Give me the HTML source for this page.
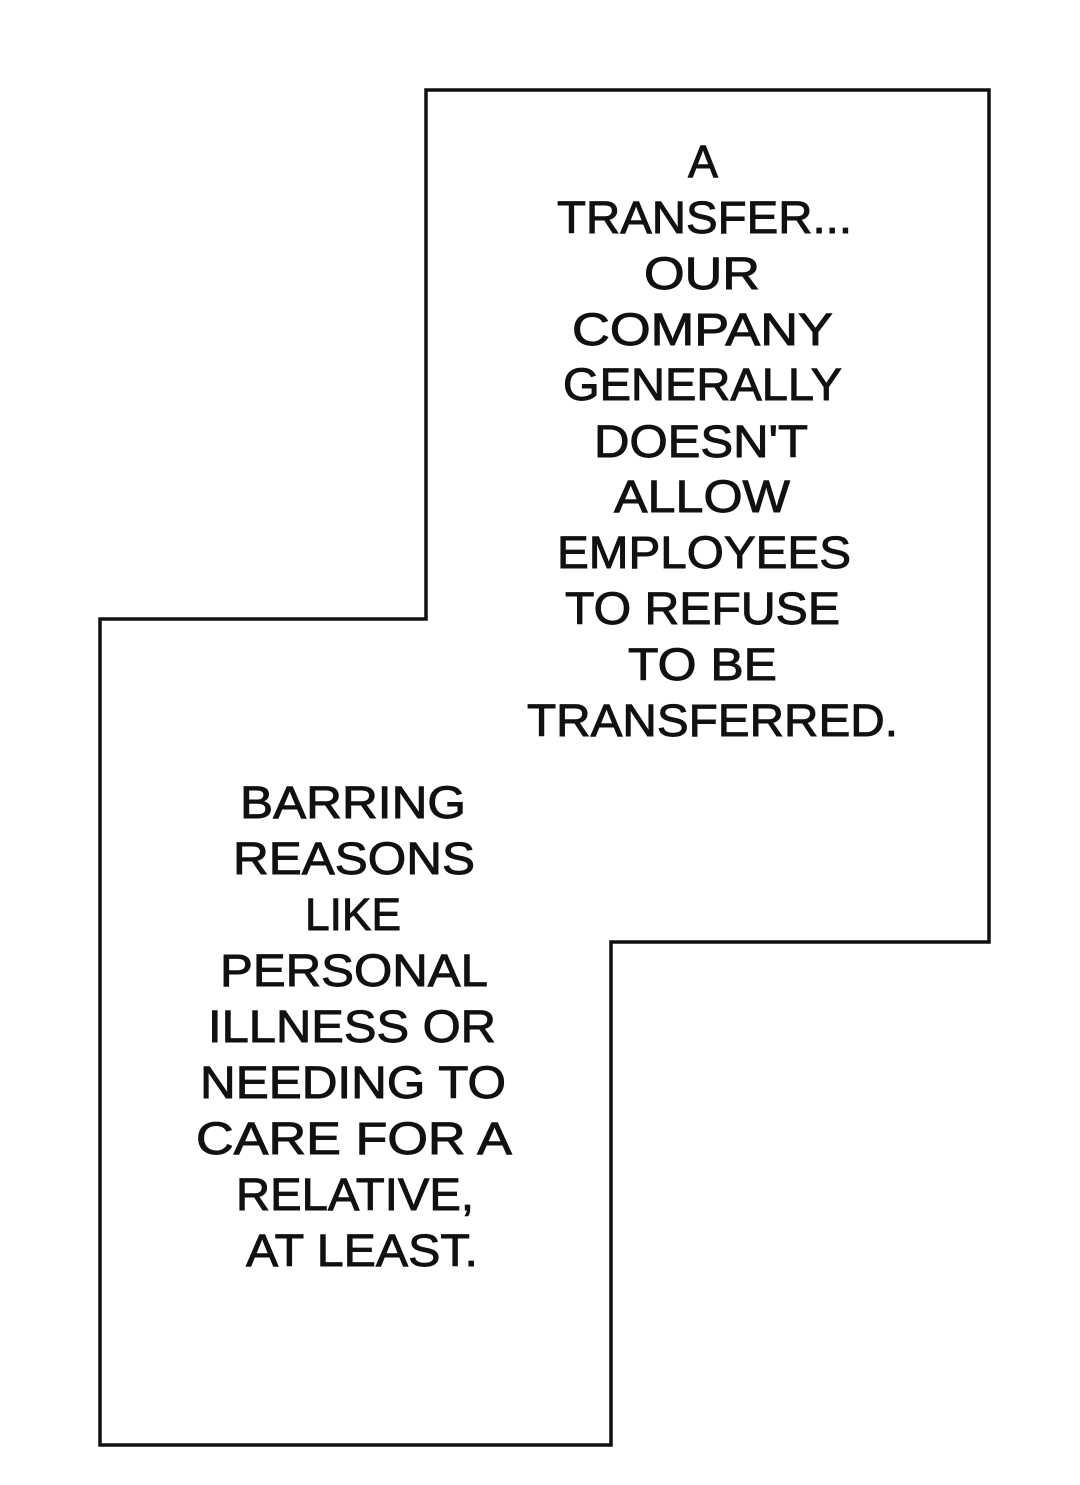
<!DOCTYPE html>
<html><head><meta charset="utf-8"><style>
html,body{margin:0;padding:0;background:#fff;}
svg{display:block}
text{font-family:"Liberation Sans",Arial,sans-serif;font-size:45px;fill:#111;stroke:#111;stroke-width:0.9px;}
</style></head><body>
<svg width="1080" height="1485" viewBox="0 0 1080 1485" xmlns="http://www.w3.org/2000/svg">
<rect width="1080" height="1485" fill="#fff" stroke="none"/>
<path d="M426,90 L989,90 L989,942 L611,942 L611,1445 L100,1445 L100,619 L426,619 Z" fill="#fff" stroke="#111" stroke-width="3.5"/>
<g>
<text x="688" y="177" textLength="30" lengthAdjust="spacingAndGlyphs">A</text>
<text x="557" y="233" textLength="295" lengthAdjust="spacingAndGlyphs">TRANSFER...</text>
<text x="644" y="289" textLength="116" lengthAdjust="spacingAndGlyphs">OUR</text>
<text x="572" y="345" textLength="261" lengthAdjust="spacingAndGlyphs">COMPANY</text>
<text x="563" y="400" textLength="279" lengthAdjust="spacingAndGlyphs">GENERALLY</text>
<text x="594" y="457" textLength="214" lengthAdjust="spacingAndGlyphs">DOESN'T</text>
<text x="614" y="512" textLength="176" lengthAdjust="spacingAndGlyphs">ALLOW</text>
<text x="557" y="568" textLength="294" lengthAdjust="spacingAndGlyphs">EMPLOYEES</text>
<text x="565" y="624" textLength="275" lengthAdjust="spacingAndGlyphs">TO REFUSE</text>
<text x="628" y="680" textLength="149" lengthAdjust="spacingAndGlyphs">TO BE</text>
<text x="527" y="736" textLength="371" lengthAdjust="spacingAndGlyphs">TRANSFERRED.</text>
</g>
<g>
<text x="240" y="818" textLength="226" lengthAdjust="spacingAndGlyphs">BARRING</text>
<text x="233" y="874" textLength="242" lengthAdjust="spacingAndGlyphs">REASONS</text>
<text x="305" y="930" textLength="96" lengthAdjust="spacingAndGlyphs">LIKE</text>
<text x="220" y="986" textLength="268" lengthAdjust="spacingAndGlyphs">PERSONAL</text>
<text x="208" y="1042" textLength="288" lengthAdjust="spacingAndGlyphs">ILLNESS OR</text>
<text x="200" y="1098" textLength="306" lengthAdjust="spacingAndGlyphs">NEEDING TO</text>
<text x="196" y="1154" textLength="316" lengthAdjust="spacingAndGlyphs">CARE FOR A</text>
<text x="236" y="1210" textLength="238" lengthAdjust="spacingAndGlyphs">RELATIVE,</text>
<text x="246" y="1266" textLength="232" lengthAdjust="spacingAndGlyphs">AT LEAST.</text>
</g>
</svg>
</body></html>
